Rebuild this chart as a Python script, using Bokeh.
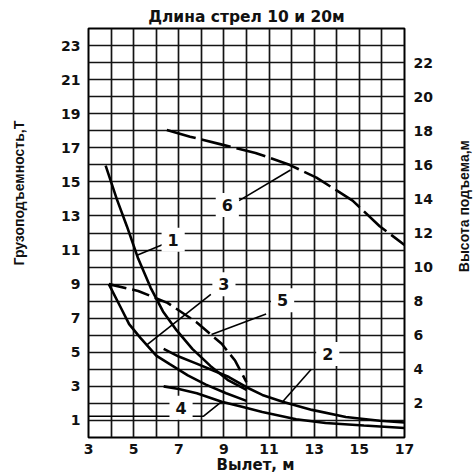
from math import pi
from bokeh.plotting import figure
from bokeh.layouts import row
from bokeh.models import Range1d, FixedTicker, LinearAxis, Title
from bokeh.core.properties import value
from bokeh.embed import file_html
from bokeh.resources import INLINE

# ---- data ----
x_ticks = [3, 5, 7, 9, 11, 13, 15, 17]
left_ticks = [1, 3, 5, 7, 9, 11, 13, 15, 17, 19, 21, 23]
right_ticks = [2, 4, 6, 8, 10, 12, 14, 16, 18, 20, 22]
grid_x = list(range(3, 18))
grid_y = list(range(0, 25))

# curve 1 (solid)
c1_x = [3.76, 4.25, 4.7, 5.2, 5.75, 6.3, 6.9, 7.6, 8.4, 9.2, 10.0]
c1_y = [15.95, 14.0, 12.4, 10.5, 8.8, 7.4, 6.3, 5.2, 4.2, 3.35, 2.8]
# curve 2 (solid)
c2_x = [6.33, 7.0, 7.76, 8.5, 9.22, 10.0, 10.7, 11.6, 12.9, 14.4, 15.9, 17.0]
c2_y = [5.2, 4.75, 4.35, 3.95, 3.55, 2.95, 2.5, 2.1, 1.62, 1.2, 0.98, 0.88]
# curve 3 (solid)
c3_x = [3.9, 4.4, 4.8, 5.3, 6.0, 6.6, 7.4, 8.2, 9.1, 10.0]
c3_y = [9.0, 7.7, 6.65, 5.85, 4.8, 4.3, 3.65, 3.1, 2.6, 2.15]
# curve 4 (solid)
c4_x = [6.33, 7.0, 7.8, 8.9, 9.8, 10.7, 12.2, 13.5, 15.2, 17.0]
c4_y = [3.0, 2.85, 2.6, 2.1, 1.8, 1.5, 1.07, 0.85, 0.7, 0.56]
# curve 5 (dashed)
c5_x = [3.9, 5.2, 6.5, 7.8, 8.9, 9.5, 10.0]
c5_y = [9.0, 8.6, 7.9, 6.75, 5.5, 4.5, 3.25]
# curve 6 (dashed)
c6_x = [6.47, 7.5, 8.87, 10.4, 11.9, 13.1, 14.7, 15.9, 17.0]
c6_y = [18.05, 17.65, 17.2, 16.7, 16.0, 15.25, 13.9, 12.4, 11.3]

# curve labels and their leader lines
lab_text = ["1", "2", "3", "4", "5", "6"]
lab_x = [6.75, 13.6, 9.0, 7.1, 11.6, 9.15]
lab_y = [11.6, 4.9, 9.0, 1.75, 8.05, 13.65]
lead1_x, lead1_y = [6.35, 5.15], [11.35, 10.7]
lead2_x, lead2_y = [12.87, 11.6], [4.0, 2.1]
lead3_x, lead3_y = [8.42, 5.6], [8.4, 5.45]
lead4_x, lead4_y = [3.0, 8.1, 8.9], [1.25, 1.25, 2.1]
lead5_x, lead5_y = [10.87, 8.45], [7.24, 6.05]
lead6_x, lead6_y = [9.67, 11.95], [13.9, 15.7]

title_text = "Длина стрел 10 и 20м"
xlabel_text = "Вылет, м"
ylabel_left = "Грузоподъемность,Т"
ylabel_right = "Высота подъема,м"

FONT = "DejaVu Sans"
LABFONT = "Liberation Sans"
INK = "#111111"
H = 472


def side_strip(width, text, sx, sy):
    """Narrow figure that only carries a vertical axis title."""
    f = figure(width=width, height=H, output_backend="svg", toolbar_location=None,
               x_range=Range1d(0, width), y_range=Range1d(0, H),
               x_axis_type=None, y_axis_type=None,
               min_border_left=0, min_border_right=0,
               min_border_top=0, min_border_bottom=0)
    f.title.visible = False
    f.outline_line_color = None
    f.background_fill_color = "white"
    f.border_fill_color = "white"
    f.text(x=[sx], y=[H - sy], text=[text], angle=pi / 2,
           text_align="center", text_baseline="middle",
           text_font=value(LABFONT), text_font_style="bold",
           text_font_size="14px", text_color=INK)
    return f


p = figure(frame_width=316, frame_height=409, output_backend="svg", toolbar_location=None,
           x_range=Range1d(3, 17), y_range=Range1d(0, 24),
           min_border_left=58, min_border_right=42,
           min_border_top=28, min_border_bottom=35,
           title=title_text)
p.title.text_font = FONT
p.title.text_font_style = "bold"
p.title.text_font_size = "15.5px"
p.title.text_color = INK
p.title.align = "center"
p.title.offset = 14
p.title.standoff = 5
p.background_fill_color = "white"
p.border_fill_color = "white"
p.outline_line_color = "black"
p.outline_line_width = 2

# grid
p.xgrid.ticker = FixedTicker(ticks=grid_x)
p.ygrid.ticker = FixedTicker(ticks=grid_y)
for g in (p.xgrid, p.ygrid):
    g.grid_line_color = "#141414"
    g.grid_line_width = 1.7


def style_axis(ax, ticks):
    ax.ticker = FixedTicker(ticks=ticks)
    ax.axis_line_color = None
    ax.major_tick_line_color = None
    ax.minor_tick_line_color = None
    ax.major_tick_out = 0
    ax.major_tick_in = 0
    ax.minor_tick_out = 0
    ax.major_label_text_font = FONT
    ax.major_label_text_font_style = "bold"
    ax.major_label_text_font_size = "14px"
    ax.major_label_text_color = INK


style_axis(p.xaxis[0], x_ticks)
p.xaxis[0].major_label_standoff = 6
style_axis(p.yaxis[0], left_ticks)
p.yaxis[0].major_label_standoff = 8
ra = LinearAxis()
style_axis(ra, right_ticks)
ra.major_label_standoff = 9
p.add_layout(ra, "right")

xt = Title(text=xlabel_text, align="left", offset=128, standoff=-6,
           text_font=FONT, text_font_style="bold", text_font_size="15px",
           text_color=INK)
p.add_layout(xt, "below")

# curves
for cx, cy in ((c1_x, c1_y), (c2_x, c2_y), (c3_x, c3_y), (c4_x, c4_y)):
    p.line(cx, cy, line_color="black", line_width=2.6)
p.line(c5_x, c5_y, line_color="black", line_width=2.6, line_dash="18 6")
p.line(c6_x, c6_y, line_color="black", line_width=2.6, line_dash="30 6")

# leaders
for lx, ly in ((lead1_x, lead1_y), (lead2_x, lead2_y), (lead3_x, lead3_y),
               (lead4_x, lead4_y), (lead5_x, lead5_y), (lead6_x, lead6_y)):
    p.line(lx, ly, line_color="black", line_width=1.6)

# curve labels with white boxes
p.text(x=lab_x, y=lab_y, text=lab_text, text_align="center", text_baseline="middle",
       text_font=value(FONT), text_font_style="bold", text_font_size="16px",
       text_color=INK, background_fill_color="white", padding=6)

left_strip = side_strip(30, ylabel_left, 18, 190)
right_strip = side_strip(30, ylabel_right, 17, 205)

layout = row(left_strip, p, right_strip)
open("out.html", "w").write(file_html(layout, INLINE))
